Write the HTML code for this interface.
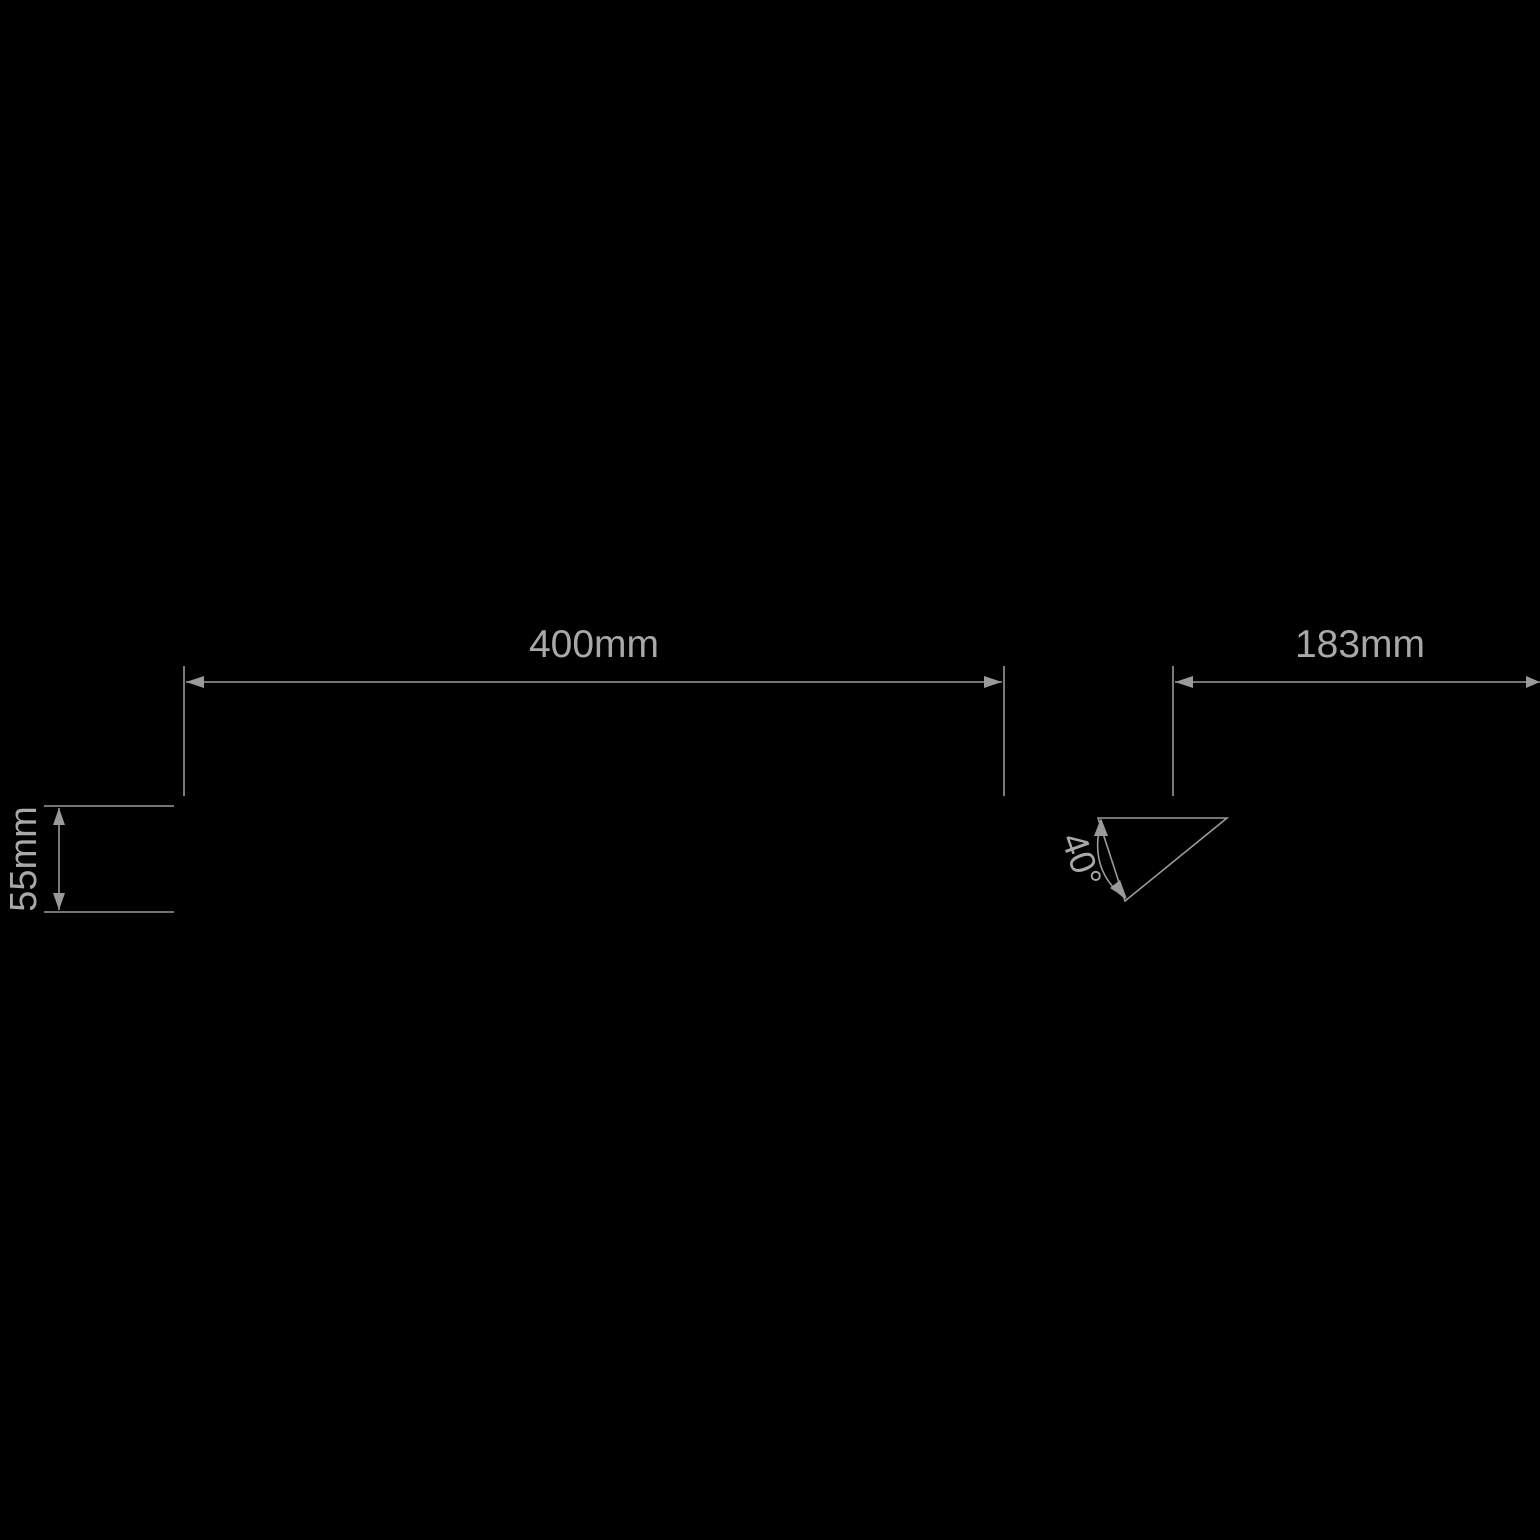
<!DOCTYPE html>
<html><head><style>html,body{margin:0;padding:0;background:#000;width:1540px;height:1540px;overflow:hidden}</style></head>
<body>
<svg width="1540" height="1540" viewBox="0 0 1540 1540" xmlns="http://www.w3.org/2000/svg">
<rect width="1540" height="1540" fill="#000"/>
<g stroke="#9a9a9a" stroke-width="1.6" fill="none">
<line x1="184" y1="666" x2="184" y2="796"/>
<line x1="1004" y1="666" x2="1004" y2="796"/>
<line x1="1173" y1="666" x2="1173" y2="796"/>
<line x1="186" y1="682" x2="1002" y2="682"/>
<line x1="1175" y1="682" x2="1540" y2="682"/>
<line x1="44" y1="806" x2="174" y2="806"/>
<line x1="44" y1="912" x2="174" y2="912"/>
<line x1="59" y1="808" x2="59" y2="910"/>
<polygon points="1098,818 1227,818 1125,901"/>
<path d="M1101,822 Q1088,870 1125,898"/>
</g>
<g fill="#9a9a9a">
<polygon points="186,682 204,676 204,688"/>
<polygon points="1002,682 984,676 984,688"/>
<polygon points="1175,682 1193,676 1193,688"/>
<polygon points="1540,682 1526,676 1526,688"/>
<polygon points="59,808 53,825 65,825"/>
<polygon points="59,910 53,893 65,893"/>
<polygon points="1101,818 1094,836 1108,836"/>
<polygon points="1127,899 1110,888 1120,880"/>
</g>
<g fill="#a8a8a8" font-family="Liberation Sans, sans-serif">
<text x="594" y="657" font-size="39" text-anchor="middle">400mm</text>
<text x="1360" y="657" font-size="39" text-anchor="middle">183mm</text>
<text transform="translate(36,859) rotate(-90)" font-size="38" text-anchor="middle">55mm</text>
<text transform="translate(1070,864) rotate(70)" font-size="36" text-anchor="middle">40°</text>
</g>
</svg>
</body></html>
